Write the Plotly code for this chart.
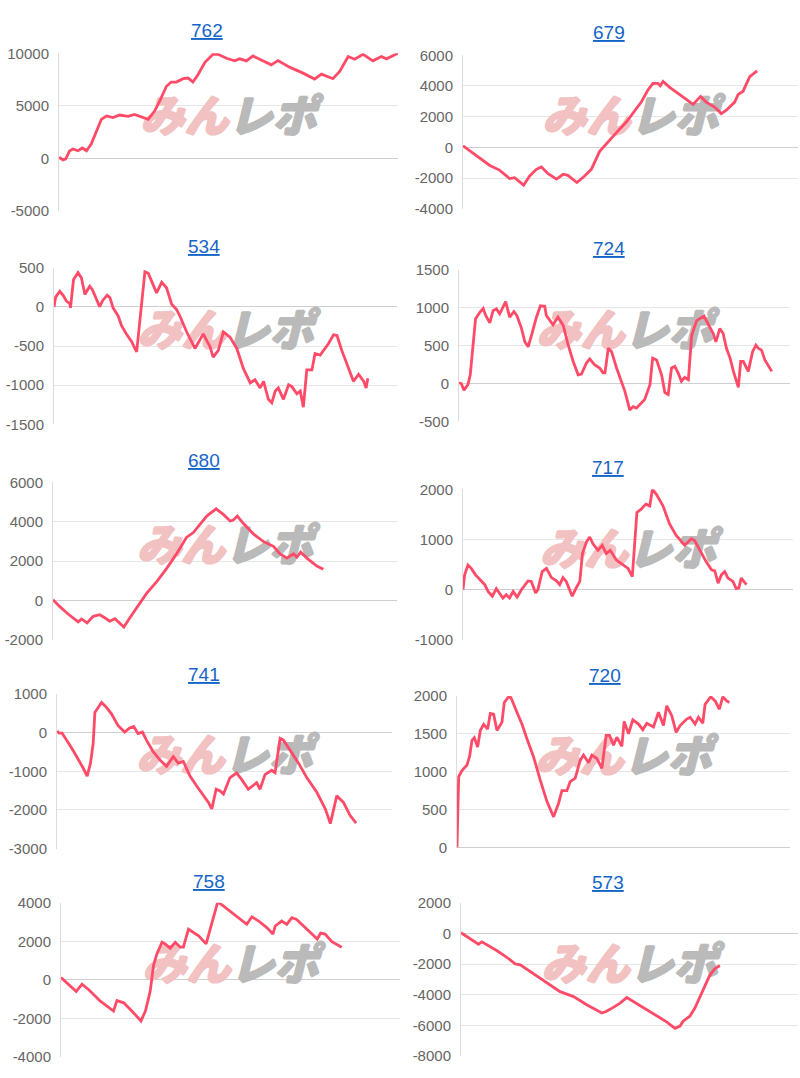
import plotly.graph_objects as go

# ---------------- data (x = position along the run, % of axis width) ----------------
titles = ["762", "679", "534", "724", "680", "717", "741", "720", "758", "573"]

x_762 = [0, 1.2, 2.0, 3.1, 4.1, 5.6, 6.9, 8.1, 9.5, 11.0, 12.5, 14.0, 15.9, 17.9, 20.4, 22.3, 24.3, 26.3, 28.2, 29.7,
         31.7, 33.1, 34.6, 36.6, 38.1, 39.5, 41.0, 43.0, 45.4, 46.9, 49.4, 51.8, 53.3, 55.3, 57.2, 60.2, 62.6, 64.6,
         68.0, 72.0, 75.4, 77.4, 79.4, 80.8, 82.8, 85.3, 87.2, 89.7, 92.6, 95.1, 96.6, 100]
y_762 = [100, -150, -60, 700, 880, 720, 980, 720, 1350, 2610, 3710, 4030, 3870, 4120, 3990, 4180, 3930, 3710, 4500, 5440,
         6860, 7260, 7260, 7580, 7640, 7260, 7960, 9120, 9900, 9900, 9530, 9280, 9470, 9280, 9750, 9310, 8900, 9310,
         8680, 8110, 7550, 8020, 7800, 7580, 8270, 9690, 9430, 9900, 9280, 9690, 9470, 10000]

x_679 = [0, 2.0, 5.0, 8.0, 10.9, 13.9, 15.4, 18.1, 19.9, 21.9, 23.4, 25.4, 27.9, 29.9, 31.3, 34.0, 36.3, 38.3, 40.8, 43.3,
         45.8, 48.8, 50.7, 53.2, 55.2, 56.7, 58.2, 58.9, 59.7, 61.7, 64.7, 67.2, 68.7, 70.9, 72.6, 75.1, 77.1, 78.6,
         81.1, 82.1, 83.6, 85.6, 87.8]
y_679 = [100, -210, -680, -1180, -1480, -2030, -1970, -2460, -1860, -1430, -1280, -1710, -2070, -1750, -1820, -2290,
         -1860, -1430, -260, 320, 960, 1670, 2200, 2950, 3740, 4170, 4170, 4020, 4300, 3910, 3440, 3060, 2800, 3320,
         2950, 2630, 2200, 2420, 2950, 3440, 3660, 4600, 4980]

x_534 = [0, 0.5, 1.7, 2.8, 3.6, 4.6, 4.8, 5.7, 7.0, 8.0, 9.0, 10.4, 11.2, 12.4, 13.3, 14.3, 15.5, 16.3, 17.2, 18.7,
         19.7, 21.1, 22.6, 24.1, 26.5, 27.5, 29.9, 31.4, 32.8, 34.3, 35.7, 36.7, 38.7, 41.1, 43.5, 45.5, 46.4, 47.9,
         49.4, 51.3, 53.3, 55.2, 57.2, 58.6, 60.1, 61.1, 62.5, 63.5, 64.5, 65.4, 66.9, 68.4, 69.3, 70.8, 71.8, 72.7,
         73.7, 75.2, 76.1, 77.6, 80.0, 81.5, 82.5, 83.9, 85.4, 87.3, 88.8, 90.3, 91.0, 91.5]
y_534 = [0, 130, 200, 140, 75, 45, -10, 350, 440, 370, 160, 265, 220, 95, 5, 90, 150, 120, -10, -115,
         -240, -345, -440, -575, 450, 430, 180, 315, 245, 35, -30, -115, -320, -530, -345, -510, -640, -555,
         -320, -385, -530, -785, -970, -930, -1035, -950, -1180, -1225, -1075, -1035, -1180, -995, -1015, -1110, -1075,
         -1280, -805, -805, -595, -615, -470, -355, -365, -555, -740, -950, -860, -950, -1035, -910]

x_724 = [0, 0.7, 1.5, 2.7, 3.4, 4.2, 5.0, 6.3, 7.3, 8.1, 9.3, 10.3, 11.3, 12.3, 13.3, 14.1, 15.3, 16.6, 17.5, 18.9,
         19.9, 20.9, 21.9, 23.4, 24.6, 25.9, 26.4, 28.4, 29.9, 31.5, 33.0, 34.5, 36.0, 37.0, 38.5, 39.5, 41.0, 42.5,
         43.5, 44.1, 45.1, 46.1, 47.6, 49.1, 50.1, 51.6, 52.6, 53.6, 54.6, 56.1, 57.7, 58.5, 59.7, 61.2, 62.2, 63.2,
         64.2, 65.2, 66.2, 67.2, 68.2, 69.3, 70.3, 71.8, 74.0, 75.3, 76.8, 77.6, 78.8, 79.8, 80.8, 81.9, 82.9, 84.4,
         85.1, 85.9, 87.4, 88.7, 89.7, 90.4, 91.4, 92.4, 93.4, 94.5]
y_724 = [10, 0, -90, -15, 115, 505, 855, 940, 990, 895, 800, 960, 985, 920, 1020, 1080, 875, 950, 895, 725,
         550, 485, 635, 875, 1025, 1020, 895, 775, 875, 765, 505, 290, 115, 125, 270, 325, 245, 205,
         140, 140, 465, 420, 205, 30, -100, -350, -305, -325, -280, -210, -15, 335, 310, 115, -120, -145,
         205, 225, 140, 30, 80, 50, 635, 830, 890, 790, 660, 550, 725, 660, 465, 335, 160, -50,
         290, 290, 160, 420, 505, 465, 440, 310, 245, 160]

x_680 = [0, 1.9, 4.4, 7.3, 8.3, 9.9, 11.7, 13.6, 14.8, 16.5, 18.0, 20.6, 22.3, 24.3, 27.2, 30.1, 33.0, 35.9, 38.8, 40.8,
         42.7, 44.7, 47.4, 49.5, 51.5, 52.4, 53.6, 55.3, 58.3, 61.2, 64.1, 66.0, 68.0, 69.9, 70.9, 72.0, 73.8, 76.7,
         78.6]
y_680 = [35, -300, -685, -1085, -935, -1135, -800, -720, -850, -1050, -920, -1350, -885, -385, 365, 950, 1620, 2370,
         3205, 3455, 3875, 4290, 4660, 4375, 4040, 4090, 4290, 3925, 3375, 2990, 2755, 2370, 2155, 2370, 2205, 2455,
         2155, 1750, 1585]

x_717 = [0, 0.5, 1.5, 2.5, 3.8, 5.1, 6.6, 7.6, 8.9, 10.1, 11.3, 12.1, 13.1, 14.1, 15.2, 16.4, 17.7, 19.7, 20.7, 22.0,
         22.7, 24.0, 25.3, 26.8, 28.3, 29.3, 30.3, 31.3, 32.3, 33.1, 34.3, 35.4, 36.2, 37.4, 38.4, 39.4, 40.9, 42.2,
         43.4, 44.6, 46.5, 48.0, 50.0, 51.3, 52.0, 52.7, 54.0, 55.4, 56.6, 57.4, 58.6, 60.6, 62.6, 64.6, 67.2, 69.2,
         70.2, 71.7, 73.7, 75.3, 76.3, 77.3, 78.3, 79.3, 80.3, 81.8, 82.8, 83.6, 84.3, 85.9]
y_717 = [0, 295, 490, 425, 295, 195, 100, -35, -130, 20, -100, -165, -100, -165, -35, -150, 0, 175, 165, -65,
         0, 360, 425, 240, 175, 100, 240, 165, 0, -130, 35, 165, 720, 950, 1050, 915, 785, 885,
         720, 785, 590, 525, 425, 260, 885, 1540, 1605, 1705, 1670, 2000, 1900, 1670, 1310, 1080, 885, 1015,
         980, 785, 555, 395, 375, 130, 295, 360, 230, 165, 20, 35, 230, 100]

x_741 = [0, 0.6, 1.5, 2.3, 3.8, 5.3, 6.8, 7.8, 9.0, 10.0, 10.8, 11.3, 12.3, 13.3, 14.8, 16.3, 18.2, 20.2, 21.7, 22.9,
         24.2, 25.5, 26.7, 28.7, 30.7, 32.7, 34.7, 36.2, 37.7, 39.7, 41.7, 43.7, 45.2, 46.2, 47.5, 48.7, 49.7, 51.6,
         53.6, 55.1, 57.1, 59.6, 60.6, 62.1, 64.1, 65.1, 66.6, 67.6, 69.6, 72.1, 74.6, 77.6, 80.1, 81.6, 83.5, 85.5,
         87.5, 89.3]
y_741 = [40, -10, -10, -110, -320, -535, -745, -915, -1125, -790, -280, 525, 650, 780, 650, 480, 185, 15, 120, 160,
         -25, 15, -195, -490, -705, -870, -620, -790, -745, -1125, -1380, -1635, -1805, -1975, -1465, -1510, -1590,
         -1170, -1040, -1210, -1465, -1295, -1465, -1085, -975, -1040, -150, -195, -450, -790, -1170, -1550, -1975,
         -2355, -1635, -1805, -2145, -2340]

x_720 = [0, 0.5, 1.5, 2.5, 3.0, 3.8, 4.5, 5.2, 6.2, 7.0, 8.0, 9.2, 10.0, 11.0, 12.0, 13.5, 14.2, 15.5, 16.2, 18.0,
         19.5, 21.0, 23.0, 25.0, 27.0, 29.0, 30.5, 31.5, 33.0, 34.0, 35.5, 37.0, 38.0, 39.5, 40.5, 42.0, 43.5, 44.8,
         45.8, 47.0, 48.0, 49.5, 50.2, 51.5, 52.8, 54.5, 55.8, 57.0, 59.0, 60.5, 62.0, 63.0, 64.5, 65.8, 67.0, 69.0,
         70.0, 71.5, 72.5, 73.8, 74.5, 76.2, 77.5, 78.8, 79.8, 81.0, 81.8]
y_720 = [0, 935, 1015, 1065, 1090, 1205, 1415, 1450, 1325, 1545, 1625, 1565, 1770, 1760, 1545, 1655, 1915, 1990, 1980,
         1785, 1630, 1435, 1195, 890, 610, 405, 585, 750, 750, 870, 915, 1150, 1220, 1120, 1220, 1175, 1045, 1480,
         1480, 1350, 1455, 1335, 1665, 1500, 1685, 1630, 1555, 1640, 1590, 1785, 1610, 1870, 1740, 1520, 1610, 1695,
         1720, 1630, 1720, 1640, 1890, 1990, 1935, 1825, 1990, 1935, 1915]

x_758 = [0, 1.8, 4.5, 6.2, 8.2, 11.6, 15.5, 16.5, 18.5, 20.9, 23.6, 24.9, 26.3, 27.3, 28.3, 29.8, 30.7, 32.2, 33.7,
         35.2, 36.1, 37.6, 39.1, 40.6, 42.8, 44.2, 46.2, 47.4, 49.9, 52.4, 54.8, 56.3, 58.3, 60.7, 62.5, 63.2, 65.1,
         66.6, 68.1, 69.5, 72.0, 74.0, 75.6, 76.6, 77.9, 79.9, 82.8]
y_758 = [120, -170, -595, -220, -510, -1100, -1610, -1070, -1185, -1610, -2120, -1610, -595, 765, 1355, 1950, 1865,
         1645, 1950, 1695, 1695, 2625, 2460, 2290, 1865, 2795, 4015, 3900, 3560, 3220, 2880, 3270, 3050, 2710, 2375,
         2795, 3050, 2880, 3220, 3135, 2710, 2375, 2120, 2425, 2375, 1985, 1695]

x_573 = [0, 1.8, 5.2, 6.2, 7.9, 10.7, 13.6, 16.1, 17.6, 21.5, 25.5, 29.4, 33.4, 37.3, 41.8, 43.2, 45.2, 47.2, 49.2,
         51.1, 55.1, 59.0, 61.0, 63.5, 65.0, 65.9, 67.9, 69.4, 71.4, 73.8, 75.3, 76.8]
y_573 = [40, -215, -705, -555, -770, -1130, -1555, -1985, -2050, -2625, -3265, -3795, -4115, -4650, -5185, -5075,
         -4820, -4545, -4180, -4435, -4970, -5505, -5760, -6185, -6035, -5715, -5395, -4865, -3905, -2730, -2305, -2090]

# y-axis tick labels per panel
y_ticks = [[-5000, 0, 5000, 10000],
           [-4000, -2000, 0, 2000, 4000, 6000],
           [-1500, -1000, -500, 0, 500],
           [-500, 0, 500, 1000, 1500],
           [-2000, 0, 2000, 4000, 6000],
           [-1000, 0, 1000, 2000],
           [-3000, -2000, -1000, 0, 1000],
           [0, 500, 1000, 1500, 2000],
           [-4000, -2000, 0, 2000, 4000],
           [-8000, -6000, -4000, -2000, 0, 2000]]

series = [(x_762, y_762), (x_679, y_679), (x_534, y_534), (x_724, y_724), (x_680, y_680),
          (x_717, y_717), (x_741, y_741), (x_720, y_720), (x_758, y_758), (x_573, y_573)]

# ---------------- layout (pixel boxes in the 800x1078 page) ----------------
W, H = 800, 1078
boxes = [(59, 398, 45, 205), (463, 798, 47, 203), (54, 397, 263, 422), (459, 790, 265, 419),
         (53, 397, 481, 641), (463, 793, 488, 641), (57, 392, 696, 853), (457, 790, 698, 852),
         (61, 400, 908, 1065), (461, 798, 908, 1064)]
title_pos = [(207, 22), (609, 24), (204, 241), (609, 243), (204, 459), (608, 466),
             (204, 676), (605, 677), (209, 886), (608, 887)]

LINE = "#ff4a68"
GRID = "#e6e6e6"
FONT = "Liberation Sans, Arial, Helvetica, sans-serif"
WM_PINK = "#f2c2c2"
WM_GRAY = "#bababa"


def thick(c):
    return f"1px 0px 0px {c}, -1px 0px 0px {c}, 0px 1px 0px {c}, 0px -1px 0px {c}"


fig = go.Figure()
layout = dict(width=W, height=H, margin=dict(l=0, r=0, t=0, b=0),
              paper_bgcolor="white", plot_bgcolor="rgba(0,0,0,0)", showlegend=False,
              annotations=[])

for i, ((xs, ys), (l, r, t, b), ticks) in enumerate(zip(series, boxes, y_ticks)):
    ymin, ymax = ticks[0], ticks[-1]
    n = "" if i == 0 else str(i + 1)
    xa, ya = "x" + n, "y" + n
    layout["xaxis" + n] = dict(domain=[l / W, r / W], range=[0, 100], anchor=ya,
                               showticklabels=False, showgrid=False, zeroline=False,
                               showline=False, ticks="", fixedrange=True)
    layout["yaxis" + n] = dict(domain=[1 - b / H, 1 - t / H], range=[ymin, ymax], anchor=xa,
                               tickmode="array", tickvals=ticks, ticktext=[str(v) for v in ticks],
                               showgrid=True, gridcolor=GRID, gridwidth=1,
                               zeroline=True, zerolinecolor="#cfcfcf", zerolinewidth=1,
                               showline=True, linecolor="#dcdcdc", linewidth=1,
                               ticks="outside", ticklen=6, tickcolor="rgba(0,0,0,0)",
                               tickfont=dict(family=FONT, size=15, color="#666666"),
                               fixedrange=True)
    # watermark (drawn beneath the line)
    wm_y = ymax - 0.43 * (ymax - ymin)
    fig.add_trace(go.Scatter(
        x=[50], y=[wm_y], xaxis=xa, yaxis=ya, mode="text", text=["みん"],
        textposition="middle left",
        textfont=dict(family="Noto Sans CJK JP", size=44, weight=900, style="italic",
                      color=WM_PINK, shadow=thick(WM_PINK)),
        hoverinfo="skip"))
    fig.add_trace(go.Scatter(
        x=[50], y=[wm_y], xaxis=xa, yaxis=ya, mode="text", text=["レポ"],
        textposition="middle right",
        textfont=dict(family="Noto Sans CJK JP", size=44, weight=900, style="italic",
                      color=WM_GRAY, shadow=thick(WM_GRAY)),
        hoverinfo="skip"))
    fig.add_trace(go.Scatter(x=xs, y=ys, xaxis=xa, yaxis=ya, mode="lines",
                             line=dict(color=LINE, width=2.8), hoverinfo="skip"))
    tx, ty = title_pos[i]
    layout["annotations"].append(dict(
        text=titles[i], x=tx / W, y=1 - ty / H, xref="paper", yref="paper",
        xanchor="center", yanchor="middle", showarrow=False,
        font=dict(family=FONT, size=19, color="#1565c8", lineposition="under")))

fig.update_layout(**layout)
fig.write_html("out.html")
